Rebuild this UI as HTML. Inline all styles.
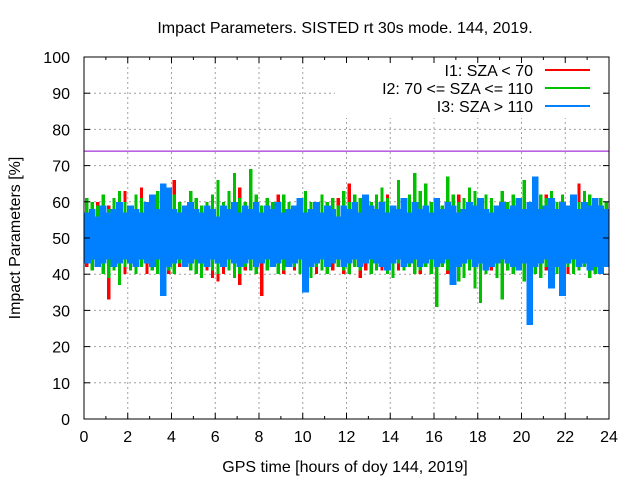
<!DOCTYPE html>
<html><head><meta charset="utf-8"><style>
body{margin:0;background:#fff}
svg{display:block;font-family:"Liberation Sans",sans-serif}
</style></head><body>
<svg id="c" width="640" height="480" viewBox="0 0 640 480"></svg>
<script>
const xTicks=[0,2,4,6,8,10,12,14,16,18,20,22,24];
const yTicks=[0,10,20,30,40,50,60,70,80,90,100];
const thresholdValue=74;
const redHi=[58,57,60,56,59,57,58,63,55,60,64,59,57,61,63,62,66,58,57,60,59,56,58,57,62,58,60,57,64,58,59,56,58,57,60,62,57,59,58,56,60,57,59,58,57,56,61,58,65,59,57,60,58,56,59,62,58,57,60,59,58,61,57,56,59,58,60,57,62,59,58,57,60,56,58,59,61,57,58,60,63,57,59,58,62,57,60,58,59,57,65,58,60,57,59,58];
const redLo=[42,41,43,40,33,42,41,40,43,41,42,40,41,43,42,40,41,42,43,41,40,42,41,39,38,40,42,41,37,41,42,40,34,41,42,43,40,42,41,43,42,41,40,42,43,41,42,40,41,42,39,41,42,43,41,40,42,41,43,42,41,40,42,43,41,42,40,41,39,42,41,43,42,40,41,42,43,41,40,42,41,43,42,40,41,42,43,41,40,42,41,43,40,42,41,43];
const greenHi=[61,60,59,62,58,61,63,60,59,62,61,58,60,63,59,61,62,60,58,63,61,59,60,62,66,60,63,68,61,60,69,62,59,61,60,58,62,60,59,61,63,60,58,62,60,61,59,63,60,62,61,59,60,62,64,61,59,66,60,62,68,63,65,60,61,59,67,62,60,61,64,63,60,62,61,59,63,60,62,61,66,60,59,62,61,63,60,62,59,61,60,63,62,59,61,60];
const greenLo=[43,41,42,40,39,41,37,42,41,40,42,43,41,40,42,41,40,43,42,41,40,39,42,41,40,42,41,39,40,42,41,40,43,41,42,40,41,43,42,40,41,39,42,41,40,43,42,41,40,42,41,43,40,41,42,40,39,43,41,42,40,41,42,40,31,42,41,40,38,39,41,36,32,40,42,39,33,41,40,42,38,41,40,39,42,41,40,43,42,40,41,42,39,40,41,42];
const blueHi=[57,58,56,59,57,58,60,57,59,58,57,60,62,58,65,64,58,57,59,60,58,57,59,58,56,59,58,60,57,59,58,60,57,59,58,60,57,58,59,61,57,58,60,57,59,58,56,59,58,60,57,62,59,58,60,57,59,58,61,57,60,58,59,57,61,58,60,59,57,58,60,59,61,58,57,59,60,58,59,61,58,60,67,58,59,61,58,60,59,62,58,60,59,61,59,58];
const blueLo=[43,44,42,43,44,42,43,44,43,42,44,43,42,44,34,42,43,44,42,43,44,43,42,44,43,42,44,43,42,43,44,42,43,44,42,43,44,42,43,44,35,42,43,44,42,43,44,42,43,44,42,43,44,43,42,41,43,44,42,43,44,42,43,44,42,43,44,37,42,43,44,42,43,41,42,43,44,43,42,41,43,26,42,43,44,36,42,34,43,44,42,43,41,42,40,42];

const NS="http://www.w3.org/2000/svg",svg=document.getElementById('c');
const L=84,R=609,T=57,B=419;
const X=v=>L+(v-0)/(24-0)*(R-L);
const Y=v=>B-(v-0)/(100-0)*(B-T);
function mk(t,a,p){const e=document.createElementNS(NS,t);for(const k in a)e.setAttribute(k,a[k]);(p||svg).appendChild(e);return e;}

xTicks.forEach(t=>{if(t>0&&t<24){const g=mk('line',{x1:X(t),x2:X(t),y1:B,y2:T,stroke:'#a0a0a0','stroke-dasharray':'2,3'});

}});
yTicks.forEach(t=>{if(t>0&&t<100){const g=mk('line',{x1:L,x2:R,y1:Y(t),y2:Y(t),stroke:'#a0a0a0','stroke-dasharray':'2,3'});

}});

function series(hi,lo,color,w,name){
  const n=hi.length,step=24/n;
  hi.forEach((h,i)=>{
    const xc=X((i+0.5)*step),bw=(X(step)-X(0))*w;
    const r=mk('rect',{x:Math.max(L,xc-bw/2),y:Y(h),width:Math.min(bw,R-(xc-bw/2)),height:Y(lo[i])-Y(h),fill:color,'shape-rendering':'crispEdges'});
    
    
  });
}
series(redHi,redLo,'#ff0000',0.6,'bar-i1');
series(greenHi,greenLo,'#00c000',0.6,'bar-i2');
series(blueHi,blueLo,'#0080ff',1.25,'bar-i3');

const th=mk('line',{x1:L,x2:R,y1:Y(thresholdValue),y2:Y(thresholdValue),stroke:'#9400d3','stroke-width':1});



const lg=mk('g',{});


mk('rect',{x:335,y:60,width:268,height:58,fill:'#fff'},lg);
const leg=[['I1: SZA < 70','#ff0000'],['I2: 70 <= SZA <= 110','#00c000'],['I3: SZA > 110','#0080ff']];
leg.forEach((d,i)=>{const y=70+i*18;
  const t=mk('text',{x:533,y:y+6,'text-anchor':'end','font-size':16,fill:'#000'},lg);t.textContent=d[0];
  
  
  mk('line',{x1:545,x2:590,y1:y,y2:y,stroke:d[1],'stroke-width':2},lg);
});

mk('rect',{x:L,y:T,width:R-L,height:B-T,fill:'none',stroke:'#000'});
xTicks.forEach(t=>{mk('line',{x1:X(t),x2:X(t),y1:B,y2:B-6,stroke:'#000'});mk('line',{x1:X(t),x2:X(t),y1:T,y2:T+6,stroke:'#000'});
  const tx=mk('text',{x:X(t),y:B+23,'text-anchor':'middle','font-size':16});tx.textContent=t;
  
  });
yTicks.forEach(t=>{mk('line',{x1:L,x2:L+6,y1:Y(t),y2:Y(t),stroke:'#000'});mk('line',{x1:R,x2:R-6,y1:Y(t),y2:Y(t),stroke:'#000'});
  const tx=mk('text',{x:L-14,y:Y(t)+6,'text-anchor':'end','font-size':16});tx.textContent=t;
  
  });
for(let t=1;t<24;t+=2){mk('line',{x1:X(t),x2:X(t),y1:B,y2:B-3,stroke:'#000'});mk('line',{x1:X(t),x2:X(t),y1:T,y2:T+3,stroke:'#000'});}

const title=mk('text',{x:345,y:33,'text-anchor':'middle','font-size':16});title.textContent='Impact Parameters. SISTED rt 30s mode. 144, 2019.';


const xl=mk('text',{x:345,y:472,'text-anchor':'middle','font-size':16});xl.textContent='GPS time [hours of doy 144, 2019]';


const yl=mk('text',{x:0,y:0,'text-anchor':'middle','font-size':16,transform:'translate(20,238) rotate(-90)'});yl.textContent='Impact Parameters [%]';


</script>
</body></html>
